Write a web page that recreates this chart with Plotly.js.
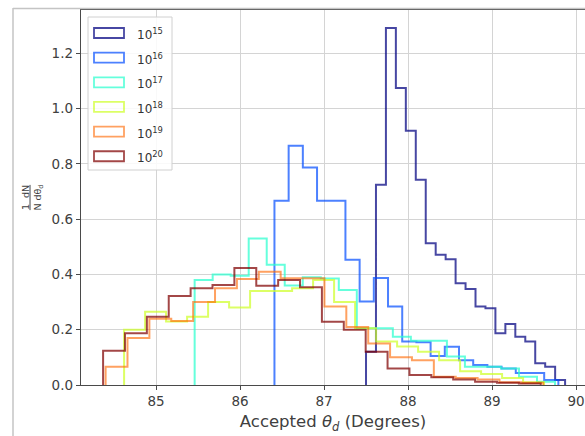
<!DOCTYPE html>
<html><head><meta charset="utf-8">
<script src="https://cdn.plot.ly/plotly-3.0.1.min.js"></script>
<style>html,body{margin:0;padding:0;background:#fff;}#chart{width:585px;height:436px;}</style>
</head><body><div id="chart"></div>
<script>
// ---- data ----
const exponents = [15, 16, 17, 18, 19, 20];
const seriesLabels = exponents.map(e => '10<sup>' + e + '</sup>');
// histogram range (deg) of each series, 20 equal bins each
const binLow  = [87.50, 86.41, 85.46, 84.62, 84.40, 84.37];
const binHigh = [89.87, 89.79, 89.75, 89.62, 89.61, 89.58];
const dens15 = [0.12, 0.725, 1.292, 1.075, 0.92, 0.743, 0.513, 0.471, 0.455, 0.368, 0.347, 0.284, 0.278, 0.187, 0.221, 0.175, 0.157, 0.079, 0.066, 0.018];
const dens16 = [0.667, 0.866, 0.787, 0.667, 0.667, 0.453, 0.302, 0.387, 0.284, 0.157, 0.155, 0.105, 0.138, 0.09, 0.072, 0.066, 0.06, 0.043, 0.043, 0.018];
const dens17 = [0.38, 0.40, 0.395, 0.53, 0.435, 0.36, 0.39, 0.385, 0.344, 0.205, 0.205, 0.175, 0.16, 0.16, 0.103, 0.066, 0.066, 0.06, 0.03, 0.012];
const dens18 = [0.20, 0.265, 0.23, 0.247, 0.30, 0.28, 0.34, 0.34, 0.35, 0.38, 0.30, 0.205, 0.157, 0.139, 0.12, 0.09, 0.05, 0.04, 0.025, 0.01];
const dens19 = [0.066, 0.17, 0.24, 0.232, 0.30, 0.35, 0.384, 0.41, 0.386, 0.386, 0.284, 0.21, 0.15, 0.10, 0.09, 0.03, 0.025, 0.02, 0.01, 0.008];
const dens20 = [0.124, 0.187, 0.247, 0.322, 0.35, 0.362, 0.423, 0.359, 0.38, 0.354, 0.229, 0.2, 0.12, 0.06, 0.036, 0.028, 0.02, 0.012, 0.008, 0.005];
const densities = [dens15, dens16, dens17, dens18, dens19, dens20];
const xTicks = [85, 86, 87, 88, 89, 90];
const yTicks = [0.0, 0.2, 0.4, 0.6, 0.8, 1.0, 1.2];

// ---- styles ----
const colors = ['rgba(0,0,127,0.72)', 'rgba(0,76,255,0.70)', 'rgba(41,255,206,0.72)',
                'rgba(206,255,41,0.72)', 'rgba(255,104,0,0.62)', 'rgba(127,0,0,0.72)'];
const FONT = 'DejaVu Sans, sans-serif';
const M = {l: 81, r: 0, t: 10, b: 51};
const PW = 585 - M.l - M.r, PH = 436 - M.t - M.b;
const px = x => (x - M.l) / PW;           // pixel -> paper (x)
const py = y => (436 - M.b - y) / PH;     // pixel -> paper (y)

// matplotlib histtype='step' outline
function stepTrace(lo, hi, dens, color, name) {
  const n = dens.length, w = (hi - lo) / n;
  const xs = [lo], ys = [0];
  for (let i = 0; i < n; i++) { xs.push(lo + i * w); ys.push(dens[i]); }
  xs.push(hi); ys.push(dens[n - 1]);
  xs.push(hi); ys.push(0);
  return {type: 'scatter', mode: 'lines', x: xs, y: ys, name: name,
          line: {shape: 'hv', color: color, width: 2.0}, showlegend: false, hoverinfo: 'skip'};
}
const traces = densities.map((d, i) => stepTrace(binLow[i], binHigh[i], d, colors[i], seriesLabels[i]));

// manual legend with outlined patches (as matplotlib draws for step histograms)
const shapes = [
  {type: 'line', xref: 'paper', yref: 'paper', x0: px(13), x1: px(13), y0: py(436), y1: py(8),
   line: {color: '#c4c4c4', width: 1.5}, layer: 'above'},
  {type: 'line', xref: 'paper', yref: 'paper', x0: px(13), x1: 1, y0: py(8.5), y1: py(8.5),
   line: {color: '#c4c4c4', width: 1.5}, layer: 'above'},
  {type: 'rect', xref: 'paper', yref: 'paper', x0: px(88), x1: px(172), y0: py(170), y1: py(17),
   fillcolor: 'rgba(255,255,255,0.85)', line: {color: '#d0d0d0', width: 1}, layer: 'above'}
];
const annotations = [];
seriesLabels.forEach((lab, i) => {
  const cy = 33 + i * 24.65;
  shapes.push({type: 'rect', xref: 'paper', yref: 'paper', x0: px(94), x1: px(124), y0: py(cy + 5), y1: py(cy - 5),
               fillcolor: 'rgba(0,0,0,0)', line: {color: colors[i], width: 1.8}, layer: 'above'});
  annotations.push({xref: 'paper', yref: 'paper', x: px(135), y: py(cy + 1), xanchor: 'left', yanchor: 'middle',
                    text: lab, showarrow: false, font: {family: FONT, size: 12, color: '#333'}});
});

const layout = {
  width: 585, height: 436, margin: M,
  paper_bgcolor: '#fff', plot_bgcolor: '#fff', showlegend: false,
  font: {family: FONT, color: '#404040'},
  xaxis: {range: [84.107, 90.107], tickvals: xTicks, ticktext: xTicks.map(String),
          showgrid: true, gridcolor: '#d4d4d4', gridwidth: 1, zeroline: false,
          showline: true, linecolor: '#4a4a4a', linewidth: 1.2, mirror: true,
          ticks: 'outside', ticklen: 4, tickcolor: '#4a4a4a', tickfont: {size: 13.5, family: FONT, color: '#404040'},
          title: {text: 'Accepted <i>θ</i><sub><i>d</i></sub> (Degrees)', font: {size: 16.5, family: FONT, color: '#404040'}, standoff: 7}},
  yaxis: {range: [0, 1.357], tickvals: yTicks, ticktext: yTicks.map(v => v.toFixed(1)),
          showgrid: true, gridcolor: '#d4d4d4', gridwidth: 1, zeroline: false,
          showline: true, linecolor: '#4a4a4a', linewidth: 1.2, mirror: false,
          ticks: 'outside', ticklen: 4, tickcolor: '#4a4a4a', tickfont: {size: 13.5, family: FONT, color: '#404040'},
          title: {text: '<span style="text-decoration:underline">1  dN</span><br>N dθ<sub>d</sub>', font: {size: 9.5, family: FONT, color: '#404040'}, standoff: 8}},
  shapes: shapes, annotations: annotations
};
Plotly.newPlot('chart', traces, layout, {staticPlot: true, displayModeBar: false});
</script></body></html>
